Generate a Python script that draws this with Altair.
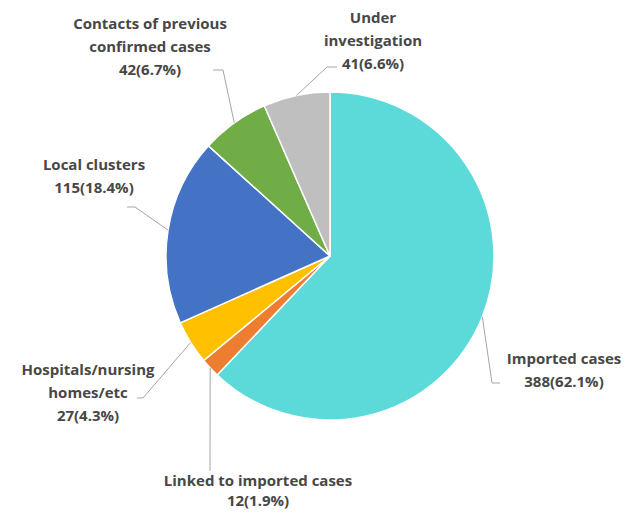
import math
import altair as alt
import pandas as pd

# ---- data ----
categories = ["Imported cases", "Linked to imported cases", "Hospitals/nursing homes/etc",
              "Local clusters", "Contacts of previous confirmed cases", "Under investigation"]
counts = [388, 12, 27, 115, 42, 41]
percents = ["62.1%", "1.9%", "4.3%", "18.4%", "6.7%", "6.6%"]
label_lines = [["Imported cases"], ["Linked to imported cases"], ["Hospitals/nursing", "homes/etc"],
               ["Local clusters"], ["Contacts of previous", "confirmed cases"], ["Under", "investigation"]]
colors = ["#5CDADA", "#ED7D31", "#FFC000", "#4472C4", "#70AD47", "#BFBFBF"]

# ---- layout (annotation placement, pixels in plot area) ----
W, H = 615, 501
CX, CY, R = 322, 248, 164
label_pos = [(556, 351), (250, 473), (80, 362), (86, 157), (142, 16), (365, 10)]
line_gap = [23, 20, 23, 23, 23, 23]
leader_elbow = [(484, 375), (202, 463), (135, 390), (127, 199), (215, 62), (319, 59)]
leader_end = [(492, 375), (202, 463), (129, 390), (119, 199), (205, 62), (329, 59)]

total = sum(counts)
pie_df = pd.DataFrame({"cat": categories, "count": counts, "idx": list(range(len(categories)))})

line_rows = []
text_rows = []
cum = 0
for i, c in enumerate(categories):
    mid = (cum + counts[i] / 2) / total * 2 * math.pi
    cum += counts[i]
    ax = CX + R * math.sin(mid)
    ay = CY - R * math.cos(mid)
    pts = [(ax, ay), leader_elbow[i], leader_end[i]]
    for s, (px, py) in enumerate(pts):
        line_rows.append({"cat": c, "seq": s, "px": px, "py": py})
    lines = label_lines[i] + [f"{counts[i]}({percents[i]})"]
    lx, ly = label_pos[i]
    for k, t in enumerate(lines):
        text_rows.append({"cat": c, "txt": t, "px": lx, "py": ly + k * line_gap[i]})

line_df = pd.DataFrame(line_rows)
text_df = pd.DataFrame(text_rows)

xs = alt.Scale(domain=[0, W], range=[0, W], nice=False, zero=False)
ys = alt.Scale(domain=[0, H], range=[0, H], nice=False, zero=False)

pie = alt.Chart(pie_df).mark_arc(outerRadius=R, stroke="white", strokeWidth=1.5).encode(
    theta=alt.Theta("count:Q", stack=True),
    order=alt.Order("idx:Q"),
    color=alt.Color("cat:N", scale=alt.Scale(domain=categories, range=colors), legend=None),
    x=alt.value(CX),
    y=alt.value(CY),
)

leaders = alt.Chart(line_df).mark_line(color="#A6A6A6", strokeWidth=1).encode(
    x=alt.X("px:Q", scale=xs, axis=None),
    y=alt.Y("py:Q", scale=ys, axis=None),
    detail="cat:N",
    order="seq:Q",
)

labels = alt.Chart(text_df).mark_text(font="Open Sans", fontSize=15, fontWeight="bold",
                                      color="#474747", align="center", baseline="middle").encode(
    x=alt.X("px:Q", scale=xs, axis=None),
    y=alt.Y("py:Q", scale=ys, axis=None),
    text="txt:N",
)

chart = alt.layer(pie, leaders, labels).properties(
    width=W, height=H, padding=0, autosize=alt.AutoSizeParams(type="none")
).configure_view(stroke=None)

chart.save("out.html", embed_options={"renderer": "svg", "actions": False})
